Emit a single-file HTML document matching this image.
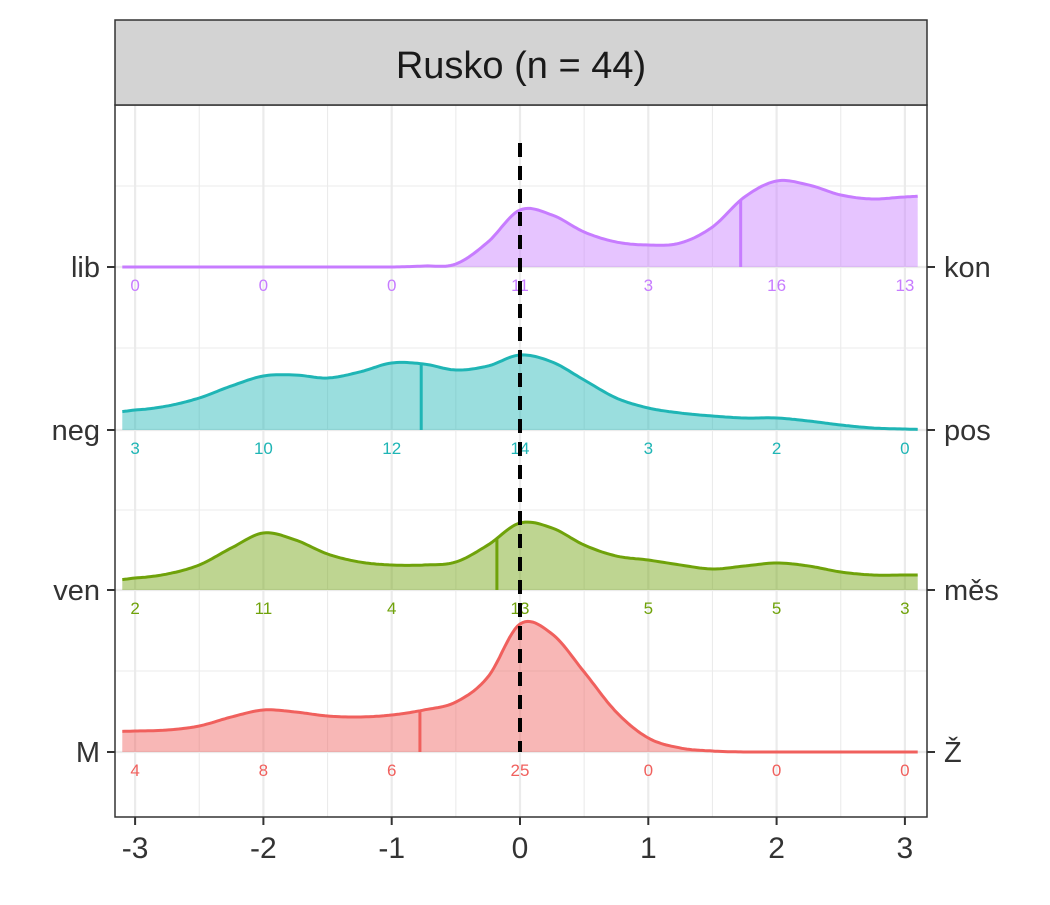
<!DOCTYPE html>
<html><head><meta charset="utf-8"><style>
body{margin:0;background:#fff;font-family:"Liberation Sans",sans-serif}
</style></head><body>
<svg width="1050" height="900" xmlns="http://www.w3.org/2000/svg" font-family="Liberation Sans, sans-serif">
<g id="grid"></g>
<g id="marks"></g>
<rect x="115" y="105" width="812" height="712" fill="none" stroke="#333" stroke-width="1.5"/>
<rect x="115" y="20" width="812" height="85" fill="#d3d3d3" stroke="#333" stroke-width="1.5"/>
<text x="521" y="78" font-size="38" text-anchor="middle" fill="#1a1a1a">Rusko (n = 44)</text>
<g id="axes"></g>
</svg>
<script>
const xTicks=[-3,-2,-1,0,1,2,3];
const leftLabels=["lib","neg","ven","M"];
const rightLabels=["kon","pos","měs","Ž"];
const colors=["#c77cff","#1fb5b5","#6fa20a","#f0605d"];
const densX=[-3,-2.75,-2.5,-2.25,-2,-1.75,-1.5,-1.25,-1,-0.75,-0.5,-0.25,0,0.25,0.5,0.75,1,1.25,1.5,1.75,2,2.25,2.5,2.75,3];
const densLib=[0,0,0,0,0,0,0,0,0,0.1,0.3,2.5,5.7,5.2,3.5,2.5,2.2,2.4,4,7,8.6,8.2,7.2,6.8,7];
const densNeg=[2,2.4,3.2,4.4,5.4,5.5,5.2,5.8,6.7,6.6,6,6.4,7.5,6.8,5,3.2,2.2,1.7,1.4,1.2,1.2,0.9,0.5,0.2,0.1];
const densVen=[1.2,1.6,2.5,4.2,5.7,5,3.6,2.8,2.5,2.5,2.8,4.5,6.7,6.2,4.5,3.4,3,2.5,2.1,2.4,2.7,2.4,1.8,1.5,1.5];
const densM=[2.1,2.2,2.6,3.5,4.2,4,3.6,3.5,3.7,4.2,5,7.5,12.8,11.8,8,4,1.4,0.4,0.1,0,0,0,0,0,0];
const medians=[1.72,-0.77,-0.18,-0.78];
const countsLib=[0,0,0,11,3,16,13];
const countsNeg=[3,10,12,14,3,2,0];
const countsVen=[2,11,4,13,5,5,3];
const countsM=[4,8,6,25,0,0,0];
const X=v=>520+v*128.3;
const baselines=[267,430,590,752];
const Y=(i,d)=>baselines[i]-d*10;
const NS="http://www.w3.org/2000/svg";
function mk(tag,at,parent){const e=document.createElementNS(NS,tag);for(const k in at)e.setAttribute(k,at[k]);parent.appendChild(e);return e;}
const grid=document.getElementById('grid'),marks=document.getElementById('marks'),axes=document.getElementById('axes');
for(let v=-3;v<=3;v+=0.5){const l=mk('line',{x1:X(v),x2:X(v),y1:105,y2:817,stroke:'#ebebeb','stroke-width':Number.isInteger(v)?2.2:1.1},grid);
}
[186,348,510,671].forEach(y=>{const l=mk('line',{x1:115,x2:927,y1:y,y2:y,stroke:'#ebebeb','stroke-width':1.1},grid);});
baselines.forEach(y=>{const l=mk('line',{x1:115,x2:927,y1:y,y2:y,stroke:'#ebebeb','stroke-width':2.2},grid);});
function interp(xs,ys,x){const n=xs.length;
if(x<=xs[0])return ys[0]+(ys[1]-ys[0])*(x-xs[0])/(xs[1]-xs[0]);
if(x>=xs[n-1])return ys[n-1]+(ys[n-1]-ys[n-2])*(x-xs[n-1])/(xs[n-1]-xs[n-2]);
for(let k=0;k<n-1;k++){if(x>=xs[k]&&x<=xs[k+1]){const t=(x-xs[k])/(xs[k+1]-xs[k]);
const p0=ys[Math.max(k-1,0)],p1=ys[k],p2=ys[k+1],p3=ys[Math.min(k+2,n-1)];
return 0.5*((2*p1)+(-p0+p2)*t+(2*p0-5*p1+4*p2-p3)*t*t+(-p0+3*p1-3*p2+p3)*t*t*t);}}return 0;}
const series=[densLib,densNeg,densVen,densM];
const counts=[countsLib,countsNeg,countsVen,countsM];
const names=["lib-kon","neg-pos","ven-mes","m-z"];
series.forEach((ds,i)=>{
 let pts=[];for(let x=-3.1;x<=3.1001;x+=0.02){pts.push([X(x),Y(i,Math.max(0,interp(densX,ds,x)))]);}
 const line=pts.map((p,j)=>(j?'L':'M')+p[0].toFixed(1)+','+p[1].toFixed(1)).join('');
 const area=mk('path',{d:line+`L${X(3.1)},${baselines[i]}L${X(-3.1)},${baselines[i]}Z`,fill:colors[i],'fill-opacity':0.45},marks);
 
 const ln=mk('path',{d:line,fill:'none',stroke:colors[i],'stroke-width':3},marks);
 
 const m=medians[i];const md=mk('line',{x1:X(m),x2:X(m),y1:baselines[i],y2:Y(i,interp(densX,ds,m)),stroke:colors[i],'stroke-width':3},marks);
 
 counts[i].forEach((c,j)=>{const t=mk('text',{x:X(xTicks[j]),y:baselines[i]+24,'font-size':17,'text-anchor':'middle',fill:colors[i]},marks);t.textContent=c;
 });
});
const dl=mk('line',{x1:X(0),x2:X(0),y1:143,y2:752,stroke:'#000','stroke-width':4,'stroke-dasharray':'14,9'},marks);

baselines.forEach((y,i)=>{
 let t=mk('line',{x1:107,x2:115,y1:y,y2:y,stroke:'#333','stroke-width':2},axes);
 t=mk('line',{x1:927,x2:935,y1:y,y2:y,stroke:'#333','stroke-width':2},axes);
 let l=mk('text',{x:100,y:y+10,'font-size':29,'text-anchor':'end',fill:'#333'},axes);l.textContent=leftLabels[i];
 l=mk('text',{x:944,y:y+10,'font-size':29,fill:'#333'},axes);l.textContent=rightLabels[i];
});
xTicks.forEach(v=>{
 const t=mk('line',{x1:X(v),x2:X(v),y1:817,y2:825,stroke:'#333','stroke-width':2},axes);
 const l=mk('text',{x:X(v),y:858,'font-size':30,'text-anchor':'middle',fill:'#333'},axes);l.textContent=v;
});
</script>
</body></html>
